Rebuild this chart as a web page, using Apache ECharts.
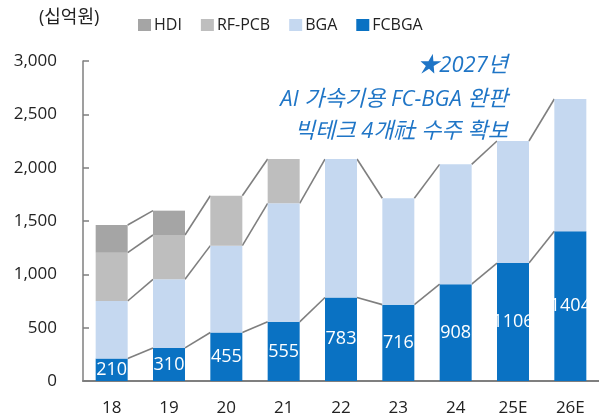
<!DOCTYPE html>
<html>
    <head>
        <title>echarts</title>
        <meta http-equiv="content-type" content="text/html; charset=utf-8">
        <style type="text/css">
            html,
            body {
                height: 100%;
                width: 100%;
                background: #fff;
                margin: 0;
            }
            #echarts {
                width: 599px;
                height: 419px;
            }
        </style>
    </head>
    <body>
        <div id="echarts"></div>
        <script src="https://cdn.jsdelivr.net/npm/echarts@6/dist/echarts.min.js"></script>
        <script>
            // 단위: 십억원
            let years = ['18', '19', '20', '21', '22', '23', '24', '25E', '26E'];
            let fcbga = [210, 310, 455, 555, 783, 716, 908, 1106, 1404];
            let bga = [540, 643, 814, 1111, 1298, 997, 1123, 1144, 1240];
            let rfpcb = [453, 416, 468, 415, null, null, null, null, null];
            let hdi = [259, 228, null, null, null, null, null, null, null];
            let yTicks = [0, 500, 1000, 1500, 2000, 2500, 3000];
            let notes = ['★2027년', 'AI 가속기용 FC-BGA 완판', '빅테크 4개社 수주 확보'];

            let font = "'Open Sans', 'Noto Sans CJK KR', sans-serif";
            let barW = 32;
            let stack = [
                {name: 'FCBGA', data: fcbga, color: '#0A72C3'},
                {name: 'BGA', data: bga, color: '#C5D8F0'},
                {name: 'RF-PCB', data: rfpcb, color: '#BEBEBE'},
                {name: 'HDI', data: hdi, color: '#A5A5A5'}
            ];

            // 누적값 (시리즈 라인용)
            let cum = [];
            let run = years.map(() => 0);
            stack.forEach(s => {
                run = run.map((v, i) => v + (s.data[i] || 0));
                cum.push(run.slice());
            });

            let series = stack.map((s, k) => ({
                name: s.name,
                type: 'bar',
                stack: 'all',
                barWidth: barW,
                data: s.data,
                itemStyle: {color: s.color},
                label: k === 0 ? {
                    show: true,
                    position: 'inside',
                    color: '#fff',
                    fontSize: 18,
                    fontFamily: font
                } : {show: false},
                z: 3
            }));

            // 막대 사이 연결선
            stack.forEach((s, k) => {
                let pairs = [];
                for (let i = 0; i < years.length - 1; i++) {
                    if (s.data[i] != null && s.data[i + 1] != null) {
                        pairs.push([i, cum[k][i], cum[k][i + 1]]);
                    }
                }
                series.push({
                    type: 'custom',
                    silent: true,
                    z: 2,
                    data: pairs,
                    renderItem: function (params, api) {
                        let i = api.value(0);
                        let p1 = api.coord([i, api.value(1)]);
                        let p2 = api.coord([i + 1, api.value(2)]);
                        return {
                            type: 'line',
                            shape: {x1: p1[0] + barW / 2, y1: p1[1], x2: p2[0] - barW / 2, y2: p2[1]},
                            style: {stroke: '#7F7F7F', lineWidth: 1.6}
                        };
                    }
                });
            });

            let noteStyle = {fontSize: 22, fontStyle: 'italic', fill: '#1F75C6', fontFamily: font};
            let myChart = echarts.init(document.getElementById('echarts'));
            let option = {
                animation: false,
                textStyle: {fontFamily: font},
                legend: {
                    data: ['HDI', 'RF-PCB', 'BGA', 'FCBGA'],
                    left: 133,
                    top: 12,
                    itemWidth: 13,
                    itemHeight: 12,
                    itemGap: 19,
                    icon: 'rect',
                    textStyle: {fontSize: 16, color: '#222', fontFamily: font, padding: [0, 0, 0, -2]}
                },
                graphic: [
                    {type: 'text', left: 39, top: 9, style: {text: '(십억원)', fontSize: 18, fill: '#222', fontFamily: font}},
                    {type: 'text', right: 91, top: 55, style: Object.assign({text: notes[0]}, noteStyle)},
                    {type: 'text', right: 91, top: 89, style: Object.assign({text: notes[1]}, noteStyle)},
                    {type: 'text', right: 91, top: 121, style: Object.assign({text: notes[2]}, noteStyle)}
                ],
                grid: {left: 83, top: 61, bottom: 38, width: 520},
                xAxis: {
                    type: 'category',
                    data: years,
                    axisLine: {lineStyle: {color: '#7F7F7F', width: 2}},
                    axisTick: {inside: true, length: 6, lineStyle: {color: '#7F7F7F', width: 1.5}},
                    axisLabel: {fontSize: 17, color: '#222', margin: 19}
                },
                yAxis: {
                    type: 'value',
                    min: yTicks[0],
                    max: yTicks[yTicks.length - 1],
                    interval: yTicks[1] - yTicks[0],
                    splitLine: {show: false},
                    axisLine: {show: true, lineStyle: {color: '#7F7F7F', width: 1.5}},
                    axisTick: {show: true, inside: true, length: 6, lineStyle: {color: '#7F7F7F', width: 1.5}},
                    axisLabel: {
                        fontSize: 17,
                        color: '#222',
                        margin: 26,
                        formatter: v => v.toLocaleString('en-US')
                    }
                },
                series: series
            };
            myChart.setOption(option);
        </script>
    </body>
</html>
